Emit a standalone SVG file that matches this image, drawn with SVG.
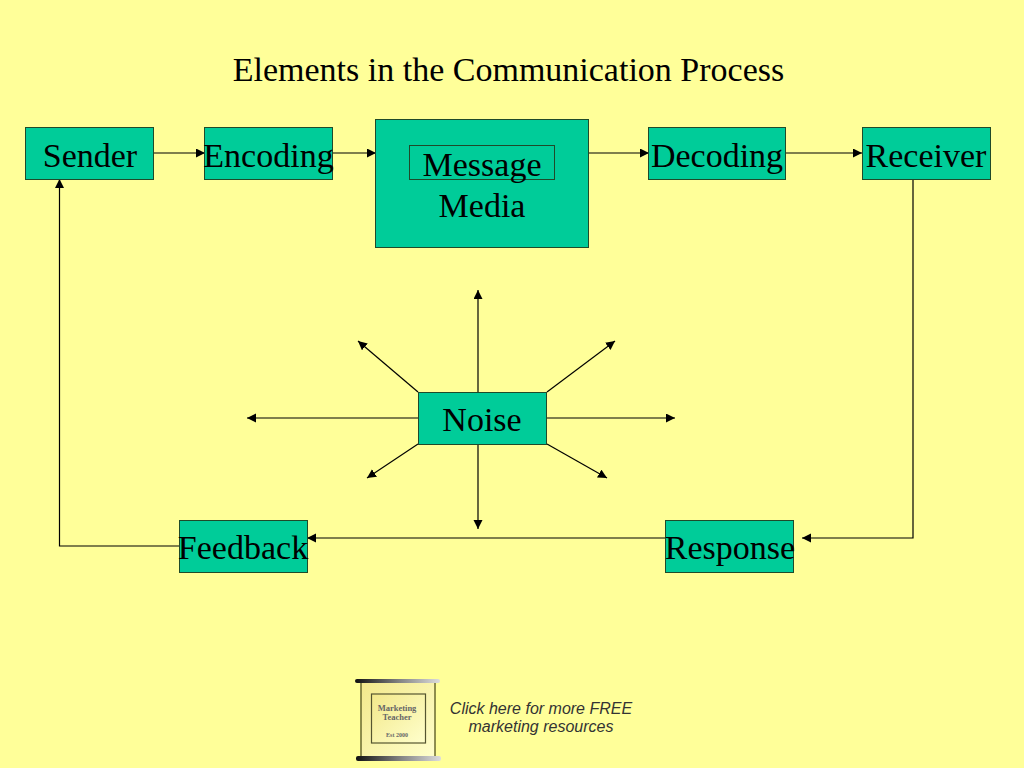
<svg xmlns="http://www.w3.org/2000/svg" width="1024" height="768" viewBox="0 0 1024 768">
<style>
.box{fill:#00cc99;stroke:#1f4a2a;stroke-width:1}
.t{font-family:"Liberation Serif",serif;fill:#000;text-anchor:middle}
.l{font-size:34px}
.c{fill:none;stroke:#000;stroke-width:1.200;marker-end:url(#a)}
.s{font-family:"Liberation Sans",sans-serif;font-style:italic;font-size:16px;fill:#333;text-anchor:middle}
</style>
<defs>
<marker id="a" markerUnits="userSpaceOnUse" markerWidth="10" markerHeight="10" refX="9" refY="4.500" orient="auto"><path d="M0 0L9 4.500L0 9Z" fill="#000"/></marker>
<linearGradient id="g"><stop offset="0" stop-color="#111"/><stop offset=".55" stop-color="#888"/><stop offset="1" stop-color="#ddd"/></linearGradient>
<linearGradient id="p" x1="0" y1="0" x2="1" y2="1"><stop offset="0" stop-color="#f2e88a"/><stop offset="1" stop-color="#ffffcc"/></linearGradient>
</defs>
<rect width="1024" height="768" fill="#ffff99"/>
<text class="t" x="508.500" y="81" font-size="34">Elements in the Communication Process</text>
<g id="connectors">
<path class="c" d="M154 153H205"/>
<path class="c" d="M333 153H376"/>
<path class="c" d="M589 153H649"/>
<path class="c" d="M785 153H862"/>
<path class="c" d="M913 180V538H802"/>
<path class="c" d="M665 538H307"/>
<path class="c" d="M179 546H59.500V179"/>
<path class="c" d="M478 392V290"/>
<path class="c" d="M478 444V529"/>
<path class="c" d="M418 418H247"/>
<path class="c" d="M547 418H675"/>
<path class="c" d="M418 392L358 341"/>
<path class="c" d="M547 392L615 341"/>
<path class="c" d="M418 444L367 478"/>
<path class="c" d="M547 444L607 478"/>
</g>
<g id="sender"><rect class="box" x="25.500" y="127.500" width="128" height="52"/><text class="t l" x="90" y="166.500">Sender</text></g>
<g id="encoding"><rect class="box" x="204.500" y="127.500" width="128" height="52"/><text class="t l" x="268.500" y="166.500">Encoding</text></g>
<g id="media"><rect class="box" x="375.500" y="119.500" width="213" height="128"/><rect x="409.500" y="145.500" width="145" height="34" fill="none" stroke="#1f4a2a"/><text class="t l" x="482" y="175.500">Message</text><text class="t l" x="482" y="216.500">Media</text></g>
<g id="decoding"><rect class="box" x="648.500" y="127.500" width="137" height="52"/><text class="t l" x="717" y="166.500">Decoding</text></g>
<g id="receiver"><rect class="box" x="862.500" y="127.500" width="128" height="52"/><text class="t l" x="926" y="166.500">Receiver</text></g>
<g id="noise"><rect class="box" x="418.500" y="392.500" width="128" height="52"/><text class="t l" x="482" y="430.500">Noise</text></g>
<g id="feedback"><rect class="box" x="179.500" y="520.500" width="128" height="52"/><text class="t l" x="243" y="558.500">Feedback</text></g>
<g id="response"><rect class="box" x="665.500" y="520.500" width="128" height="52"/><text class="t l" x="730" y="558.500">Response</text></g>
<g id="logo">
<rect x="361" y="681" width="74" height="77" fill="url(#p)" stroke="#6a6a30" stroke-width="1.500"/>
<rect x="371.500" y="694" width="54" height="49" fill="url(#p)" stroke="#555530" stroke-width="1.200"/>
<rect x="355" y="679" width="85" height="4" rx="2" fill="url(#g)"/>
<rect x="356" y="756" width="85" height="5" rx="2" fill="url(#g)"/>
<text x="397" y="711" font-family="Liberation Serif,serif" font-weight="bold" font-size="8.500" fill="#666" text-anchor="middle">Marketing</text>
<text x="397" y="720" font-family="Liberation Serif,serif" font-weight="bold" font-size="8.500" fill="#666" text-anchor="middle">Teacher</text>
<text x="397" y="737" font-family="Liberation Serif,serif" font-weight="bold" font-size="6" fill="#666" text-anchor="middle">Est 2000</text>
<text class="s" x="541" y="714">Click here for more FREE</text>
<text class="s" x="541" y="732">marketing resources</text>
</g>
</svg>
